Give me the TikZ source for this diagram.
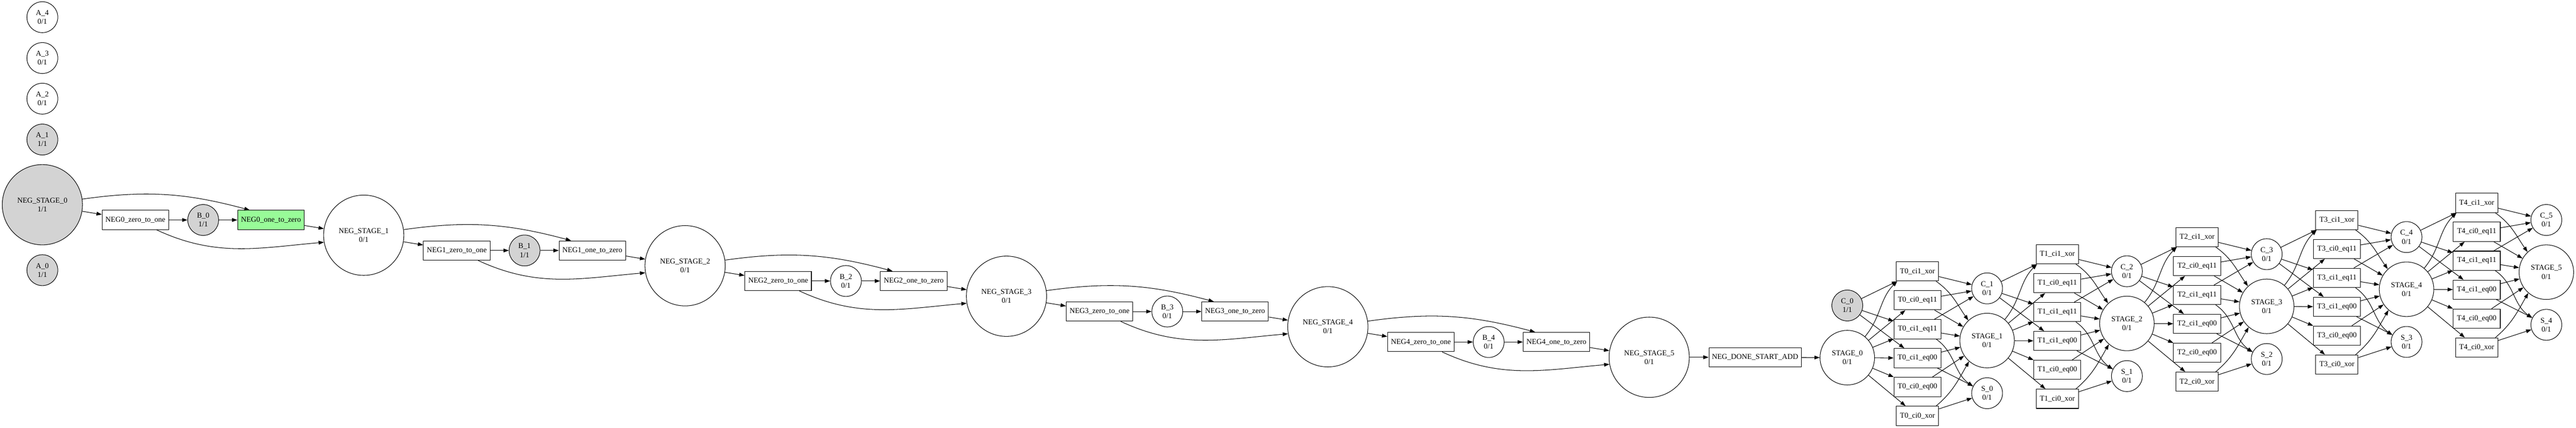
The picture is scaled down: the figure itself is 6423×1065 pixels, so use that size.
\documentclass[tikz,border=0pt]{standalone}
\usepackage{fontspec}
\setmainfont{Liberation Serif}
\usetikzlibrary{arrows.meta,shapes.geometric}
\definecolor{lgray}{HTML}{D3D3D3}
\definecolor{pgreen}{HTML}{98FB98}
\begin{document}
\begin{tikzpicture}[x=0.75pt,y=-0.75pt,
  every node/.style={font=\fontsize{14pt}{16.5pt}\selectfont, align=center, inner sep=0pt, line width=1pt},
  smallc/.style={circle, draw, fill=white, minimum size=57.75pt},
  bigc/.style={circle, draw, fill=white, minimum size=150pt},
  midc/.style={circle, draw, fill=white, minimum size=102pt},
  nbox/.style={rectangle, draw, fill=white, minimum width=124.5pt, minimum height=36pt},
  donebox/.style={rectangle, draw, fill=white, minimum width=172.5pt, minimum height=36pt},
  xorbox/.style={rectangle, draw, fill=white, minimum width=79pt, minimum height=36pt},
  eqbox/.style={rectangle, draw, fill=white, minimum width=88pt, minimum height=36pt},
  filled/.style={fill=lgray},
  edge/.style={draw, line width=1pt, -{Triangle[length=10pt,width=7pt]}}]
\useasboundingbox (0,0) rectangle (6423,1065);

% ---------- A nodes ----------
\node[smallc] (a4) at (105.6,42.8) {A\_4\\0/1};
\node[smallc] (a3) at (105.6,144.6) {A\_3\\0/1};
\node[smallc] (a2) at (105.6,245.8) {A\_2\\0/1};
\node[smallc,filled] (a1) at (105.6,347.6) {A\_1\\1/1};
\node[smallc,filled] (a0) at (105.6,673) {A\_0\\1/1};

% ---------- NEG stages ----------
\node[bigc,filled] (ns0) at (105.6,510) {NEG\_STAGE\_0\\1/1};
\foreach \i in {1,...,5} {
  \node[bigc] (ns\i) at ({105.6+801.3*\i},{510+76*\i}) {NEG\_STAGE\_\i\\0/1};
}
\foreach \i in {0,...,4} {
  \node[nbox] (za\i) at ({337.6+801.3*\i},{548+76*\i}) {NEG\i\_zero\_to\_one};
}
\node[smallc,filled] (b0) at (506.6,548) {B\_0\\1/1};
\node[smallc,filled] (b1) at ({506.6+801.3},{548+76}) {B\_1\\1/1};
\foreach \i in {2,...,4} {
  \node[smallc] (b\i) at ({506.6+801.3*\i},{548+76*\i}) {B\_\i\\0/1};
}
\node[nbox,fill=pgreen] (oz0) at (675.6,548) {NEG0\_one\_to\_zero};
\foreach \i in {1,...,4} {
  \node[nbox] (oz\i) at ({675.6+801.3*\i},{548+76*\i}) {NEG\i\_one\_to\_zero};
}
\node[donebox] (done) at (4376,890) {NEG\_DONE\_START\_ADD};

\foreach \i [evaluate=\i as \j using int(\i+1)] in {0,...,4} {
  \draw[edge] (ns\i) -- (za\i);
  \draw[edge] (za\i) -- (b\i);
  \draw[edge] (b\i) -- (oz\i);
  \draw[edge] (oz\i) -- (ns\j);
  \draw[edge] (ns\i.8) to[out=8,in=165] (oz\i.155);
  \draw[edge] (za\i.-25) to[out=-25,in=185] (ns\j.190);
}

% ---------- Adder ----------
\foreach \k in {0,...,5} {
  \node[midc] (st\k) at ({4606+348.6*\k},{891-42.6*\k}) {STAGE\_\k\\0/1};
}
\node[smallc,filled] (c0) at (4606,761) {C\_0\\1/1};
\foreach \k in {1,...,5} {
  \node[smallc] (c\k) at ({4606+348.6*\k},{761-42.6*\k}) {C\_\k\\0/1};
}
\foreach \k in {0,...,4} {
  \node[smallc] (s\k) at ({4954.6+348.6*\k},{979.5-42.6*\k}) {S\_\k\\0/1};
  \foreach \r/\lab/\sty in {0/ci1\_xor/xorbox, 1/ci0\_eq11/eqbox, 2/ci1\_eq11/eqbox, 3/ci1\_eq00/eqbox, 4/ci0\_eq00/eqbox, 5/ci0\_xor/xorbox} {
    \node[\sty] (t\k\r) at ({4781+348.6*\k},{676-42.6*\k+72*\r}) {T\k\_\lab};
  }
}

\draw[edge] (ns5) -- (done);
\draw[edge] (done) -- (st0);

\foreach \k [evaluate=\k as \j using int(\k+1)] in {0,...,4} {
  \draw[edge] (c\k) -- (t\k0);
  \draw[edge] (c\k) -- (t\k2);
  \draw[edge] (c\k) -- (t\k3);
  \draw[edge] (st\k.50) to[out=50,in=225] (t\k0.206);
  \draw[edge] (st\k) -- (t\k1);
  \draw[edge] (st\k) -- (t\k2);
  \draw[edge] (st\k) -- (t\k3);
  \draw[edge] (st\k) -- (t\k4);
  \draw[edge] (st\k) -- (t\k5);
  \draw[edge] (t\k0) -- (c\j);
  \draw[edge] (t\k0.-28) to[out=-35,in=125] (st\j.133);
  \draw[edge] (t\k1) -- (c\j);
  \draw[edge] (t\k1) -- (st\j);
  \draw[edge] (t\k2) -- (c\j);
  \draw[edge] (t\k2) -- (st\j);
  \draw[edge] (t\k2.-28) to[out=-35,in=145] (s\k.154);
  \draw[edge] (t\k3) -- (st\j);
  \draw[edge] (t\k3) -- (s\k);
  \draw[edge] (t\k4) -- (st\j);
  \draw[edge] (t\k5.28) to[out=40,in=240] (st\j.229);
  \draw[edge] (t\k5) -- (s\k);
}
\end{tikzpicture}
\end{document}
